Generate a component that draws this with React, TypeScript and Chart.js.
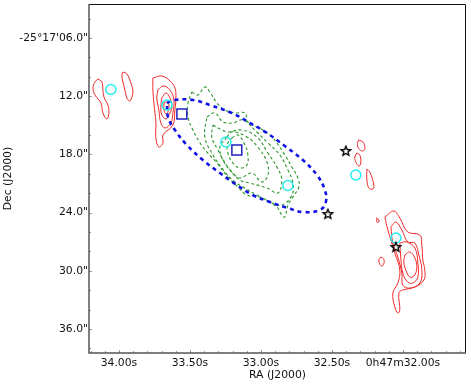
import React, { useEffect, useRef } from "react";
import { Chart, registerables } from "chart.js";

Chart.register(...registerables);

const raTicks = [34.0, 33.5, 33.0, 32.5, 32.0];
const raLabels = ["34.00s", "33.50s", "33.00s", "32.50s", "0h47m32.00s"];
const decTicks = [6, 12, 18, 24, 30, 36];
const decLabels = ["-25°17'06.0\"", "12.0\"", "18.0\"", "24.0\"", "30.0\"", "36.0\""];

// contours: RA seconds / Dec arcseconds below -25°17'00"
const redARa = [34.148, 34.12, 34.113, 34.106, 34.078, 34.071, 34.085, 34.113, 34.127, 34.169, 34.183, 34.169, 34.148];
const redADec = [10.23, 10.54, 11.36, 12.08, 12.91, 13.73, 14.35, 13.73, 12.7, 11.88, 11.15, 10.54, 10.23];
const redBRa = [33.972, 33.944, 33.916, 33.902, 33.923, 33.944, 33.958, 33.972, 33.979, 33.972];
const redBDec = [9.51, 9.71, 10.64, 11.57, 12.5, 12.19, 11.36, 10.54, 9.81, 9.51];
const redC1Ra = [33.761, 33.698, 33.641, 33.606, 33.599, 33.606, 33.62, 33.69, 33.69, 33.719, 33.74, 33.74, 33.754, 33.761, 33.761];
const redC1Dec = [10.12, 9.92, 10.43, 11.15, 12.19, 13.42, 14.97, 16.0, 16.83, 17.24, 16.31, 14.76, 12.7, 11.36, 10.12];
const redC2Ra = [33.726, 33.69, 33.641, 33.613, 33.62, 33.634, 33.676, 33.705, 33.719, 33.733, 33.726];
const redC2Dec = [11.36, 10.95, 11.36, 12.39, 13.73, 14.76, 15.28, 14.76, 13.42, 12.19, 11.36];
const redC3Ra = [33.698, 33.669, 33.641, 33.627, 33.648, 33.669, 33.698, 33.705, 33.698];
const redC3Dec = [12.19, 11.67, 12.19, 13.11, 13.94, 14.35, 13.94, 13.11, 12.19];
const redC4Ra = [33.683, 33.662, 33.648, 33.655, 33.669, 33.683, 33.683];
const redC4Dec = [12.7, 12.6, 12.91, 13.63, 13.84, 13.42, 12.7];
const redDRa = [32.311, 32.282, 32.268, 32.29, 32.318, 32.318, 32.311];
const redDDec = [16.52, 16.72, 17.44, 17.65, 17.24, 16.72, 16.52];
const redERa = [32.325, 32.304, 32.297, 32.311, 32.332, 32.339, 32.325];
const redEDec = [17.86, 18.06, 18.89, 19.2, 18.78, 18.27, 17.86];
const redFRa = [32.254, 32.233, 32.205, 32.212, 32.24, 32.254, 32.254];
const redFDec = [19.51, 19.82, 21.16, 21.57, 21.46, 20.64, 19.51];
const redGRa = [32.184, 32.17, 32.17, 32.184, 32.184];
const redGDec = [24.56, 24.76, 24.97, 24.97, 24.56];
const redHRa = [32.156, 32.135, 32.135, 32.149, 32.163, 32.17, 32.156];
const redHDec = [28.58, 28.79, 29.3, 29.51, 29.3, 28.89, 28.58];
const redI1Ra = [32.128, 32.064, 32.022, 31.966, 31.881, 31.867, 31.86, 31.846, 31.853, 31.916, 32.001, 32.029, 32.022, 32.036, 32.057, 32.071, 32.036, 32.022, 32.057, 32.106, 32.128];
const redI1Dec = [24.46, 23.84, 24.56, 26.0, 26.31, 27.34, 28.89, 29.92, 30.95, 31.67, 31.98, 32.29, 34.04, 34.35, 33.73, 32.29, 31.26, 29.92, 28.17, 25.8, 24.46];
const redI2Ra = [32.085, 32.05, 32.008, 31.966, 31.916, 31.888, 31.867, 31.881, 31.952, 32.001, 32.008, 32.036, 32.071, 32.085];
const redI2Dec = [25.49, 24.97, 25.8, 27.03, 27.14, 28.37, 29.92, 31.26, 31.78, 31.47, 30.23, 28.58, 27.14, 25.49];
const redI3Ra = [32.022, 31.973, 31.916, 31.895, 31.895, 31.93, 31.966, 32.001, 32.015, 32.022];
const redI3Dec = [27.14, 27.03, 27.65, 29.2, 30.64, 31.26, 31.16, 30.23, 28.68, 27.14];
const redI4Ra = [31.987, 31.952, 31.916, 31.902, 31.923, 31.952, 31.98, 31.994, 31.987];
const redI4Dec = [28.37, 28.06, 28.68, 29.71, 30.54, 30.64, 29.92, 29.09, 28.37];

const green1Ra = [33.486, 33.444, 33.395, 33.36, 33.31, 33.254, 33.184, 33.113, 33.092, 32.986, 32.916, 32.832, 32.782, 32.74, 32.733, 32.775, 32.81, 32.832, 32.853, 32.888, 33.008, 33.099, 33.162, 33.233, 33.31, 33.409, 33.479, 33.514, 33.514, 33.486];
const green1Dec = [11.57, 11.88, 11.05, 11.57, 12.7, 13.42, 13.73, 13.73, 14.66, 15.49, 16.31, 18.06, 19.3, 20.43, 21.36, 22.39, 23.22, 24.46, 24.25, 23.42, 22.39, 22.19, 21.36, 20.33, 18.89, 17.24, 15.49, 14.14, 12.7, 11.57];
const green2Ra = [33.381, 33.324, 33.268, 33.198, 33.127, 33.029, 32.951, 32.867, 32.81, 32.775, 32.782, 32.853, 32.937, 33.029, 33.127, 33.184, 33.254, 33.338, 33.395, 33.381];
const green2Dec = [14.14, 13.73, 14.66, 14.76, 14.45, 15.69, 16.83, 18.06, 19.61, 20.95, 22.19, 23.22, 22.91, 22.19, 21.36, 20.85, 19.82, 18.06, 16.21, 14.14];
const green3Ra = [33.338, 33.275, 33.233, 33.134, 33.029, 32.951, 32.888, 32.853, 32.881, 32.958, 33.078, 33.148, 33.233, 33.303, 33.346, 33.338];
const green3Dec = [14.97, 15.49, 15.69, 15.49, 16.21, 17.86, 19.3, 20.64, 21.98, 21.46, 20.95, 20.64, 19.3, 17.55, 16.21, 14.97];
const green4Ra = [33.24, 33.205, 33.099, 33.022, 32.958, 32.951, 32.994, 33.064, 33.148, 33.198, 33.268, 33.289, 33.24];
const green4Dec = [16.21, 15.69, 16.21, 17.24, 18.78, 20.12, 20.85, 19.92, 20.43, 19.92, 18.58, 17.24, 16.21];
const green5Ra = [33.205, 33.162, 33.113, 33.092, 33.099, 33.148, 33.198, 33.233, 33.233, 33.205];
const green5Dec = [16.31, 16.0, 17.03, 18.06, 19.09, 19.4, 18.89, 17.86, 16.83, 16.31];

const ellipseRa = [33.662, 33.606, 33.479, 33.36, 33.205, 33.078, 32.958, 32.832, 32.705, 32.606, 32.55, 32.543, 32.585, 32.705, 32.81, 32.937, 33.057, 33.17, 33.289, 33.409, 33.522, 33.606, 33.655, 33.662];
const ellipseDec = [12.7, 12.39, 12.39, 12.91, 13.73, 14.76, 15.79, 17.14, 18.58, 20.12, 21.67, 22.91, 23.73, 23.94, 23.53, 22.91, 22.19, 21.16, 19.92, 18.58, 17.03, 15.49, 14.14, 12.7];

const circleRa = [34.057, 33.662, 33.247, 32.81, 32.332, 32.05];
const circleDec = [11.31, 12.91, 16.72, 21.21, 20.12, 26.62];
const squareRa = [33.557, 33.17];
const squareDec = [13.84, 17.55];
const starRa = [32.402, 32.529, 32.05];
const starDec = [17.65, 24.15, 27.55];

const raMinor = [34.2, 34.1, 33.9, 33.8, 33.7, 33.6, 33.4, 33.3, 33.2, 33.1, 32.9, 32.8, 32.7, 32.6, 32.4, 32.3, 32.2, 32.1, 31.9, 31.8, 31.7, 31.6];
const decMinor = [4, 8, 10, 14, 16, 20, 22, 26, 28, 32, 34, 38];

const toPts = (xs: number[], ys: number[]) => xs.map((x, i) => ({ x, y: ys[i] }));

const font = { family: "'DejaVu Sans'", size: 10.8 };

function makeStar(): HTMLCanvasElement {
  const c = document.createElement("canvas");
  c.width = 14;
  c.height = 14;
  const g = c.getContext("2d")!;
  g.beginPath();
  for (let i = 0; i < 10; i++) {
    const r = i % 2 === 0 ? 5 : 2.2;
    const a = -Math.PI / 2 + (i * Math.PI) / 5;
    const px = 7 + r * Math.cos(a);
    const py = 7.3 + r * Math.sin(a);
    if (i === 0) g.moveTo(px, py);
    else g.lineTo(px, py);
  }
  g.closePath();
  g.lineWidth = 1.4;
  g.strokeStyle = "#000";
  g.stroke();
  return c;
}

const framePlugin = {
  id: "frame",
  afterDatasetsDraw(chart: any) {
    const { ctx, chartArea: a, scales } = chart;
    ctx.save();
    const xs = scales.x;
    const ys = scales.y;
    ctx.strokeStyle = "#999";
    ctx.lineWidth = 1;
    const tick = (v: number, len: number, isX: boolean) => {
      ctx.beginPath();
      if (isX) {
        const p = Math.round(xs.getPixelForValue(v)) + 0.5;
        ctx.moveTo(p, a.bottom);
        ctx.lineTo(p, a.bottom - len);
      } else {
        const p = Math.round(ys.getPixelForValue(v)) + 0.5;
        ctx.moveTo(a.left, p);
        ctx.lineTo(a.left + len, p);
      }
      ctx.stroke();
    };
    raTicks.forEach((v) => tick(v, 3, true));
    raMinor.forEach((v) => tick(v, 2, true));
    decTicks.forEach((v) => tick(v, 3, false));
    decMinor.forEach((v) => tick(v, 2, false));
    ctx.strokeStyle = "#111";
    ctx.lineWidth = 1;
    ctx.beginPath();
    ctx.moveTo(a.left, a.top + 0.5);
    ctx.lineTo(a.right - 0.5, a.top + 0.5);
    ctx.lineTo(a.right - 0.5, a.bottom);
    ctx.stroke();
    ctx.strokeStyle = "#555";
    ctx.lineWidth = 1.5;
    ctx.beginPath();
    ctx.moveTo(a.left, a.top);
    ctx.lineTo(a.left, a.bottom);
    ctx.lineTo(a.right, a.bottom);
    ctx.stroke();
    ctx.restore();
  },
};

export default function App() {
  const ref = useRef<HTMLCanvasElement>(null);
  useEffect(() => {
    const red = [
      [redARa, redADec], [redBRa, redBDec], [redC1Ra, redC1Dec], [redC2Ra, redC2Dec], [redC3Ra, redC3Dec],
      [redC4Ra, redC4Dec], [redDRa, redDDec], [redERa, redEDec], [redFRa, redFDec], [redGRa, redGDec],
      [redHRa, redHDec], [redI1Ra, redI1Dec], [redI2Ra, redI2Dec], [redI3Ra, redI3Dec], [redI4Ra, redI4Dec],
    ];
    const green = [
      [green1Ra, green1Dec], [green2Ra, green2Dec], [green3Ra, green3Dec], [green4Ra, green4Dec], [green5Ra, green5Dec],
    ];
    const line = (xs: number[], ys: number[], color: string, width: number, dash: number[], order: number) => ({
      data: toPts(xs, ys),
      showLine: true,
      borderColor: color,
      borderWidth: width,
      borderDash: dash,
      pointRadius: 0,
      tension: 0.4,
      fill: false,
      order,
    });
    const chart = new Chart(ref.current!, {
      type: "scatter",
      data: {
        datasets: [
          ...red.map(([x, y]) => line(x, y, "#f02a2a", 1, [], 5)),
          ...green.map(([x, y]) => line(x, y, "#2a962a", 1.1, [3, 2.5], 4)),
          line(ellipseRa, ellipseDec, "#1010e8", 2.6, [4, 4], 3),
          {
            data: toPts(circleRa, circleDec),
            pointStyle: "circle",
            pointRadius: 5,
            pointBorderColor: "#22eeee",
            pointBackgroundColor: "transparent",
            pointBorderWidth: 1.5,
            order: 2,
          },
          {
            data: toPts(squareRa, squareDec),
            pointStyle: "rect",
            pointRadius: 7,
            pointBorderColor: "#2020c0",
            pointBackgroundColor: "transparent",
            pointBorderWidth: 1.5,
            order: 1,
          },
          {
            data: toPts(starRa, starDec),
            pointStyle: makeStar(),
            pointRadius: 7,
            order: 0,
          },
        ] as any,
      },
      options: {
        responsive: false,
        animation: false,
        layout: { autoPadding: false, padding: { top: 4, right: 5, left: 0, bottom: 0 } },
        plugins: { legend: { display: false }, tooltip: { enabled: false } },
        scales: {
          x: {
            type: "linear",
            reverse: true,
            min: 31.556,
            max: 34.211,
            grid: { display: false, drawTicks: false },
            border: { display: false },
            afterBuildTicks: (s: any) => {
              s.ticks = raTicks.map((value) => ({ value }));
            },
            afterFit: (s: any) => {
              s.height = 33;
              s.paddingLeft = 0;
              s.paddingRight = 0;
            },
            ticks: {
              autoSkip: false,
              maxRotation: 0,
              padding: 4,
              color: "#111",
              font,
              callback: (v: any) => raLabels[raTicks.indexOf(Number(v))] ?? "",
            },
            title: { display: true, text: "RA (J2000)", color: "#111", font, padding: { top: 1, bottom: 4 } },
          },
          y: {
            type: "linear",
            reverse: true,
            min: 2.5,
            max: 38.47,
            grid: { display: false, drawTicks: false },
            border: { display: false },
            afterBuildTicks: (s: any) => {
              s.ticks = decTicks.map((value) => ({ value }));
            },
            afterFit: (s: any) => {
              s.width = 89;
              s.paddingTop = 0;
              s.paddingBottom = 0;
            },
            ticks: {
              autoSkip: false,
              padding: 1,
              color: "#111",
              font,
              callback: (v: any) => decLabels[decTicks.indexOf(Number(v))] ?? "",
            },
            title: { display: true, text: "Dec (J2000)", color: "#111", font, padding: { top: 2, bottom: 0 } },
          },
        },
      },
      plugins: [framePlugin],
    } as any);
    return () => chart.destroy();
  }, []);
  return (
    <div style={{ position: "fixed", left: 0, top: 0, width: 471, height: 386, background: "#fff" }}>
      <canvas ref={ref} width={471} height={386} style={{ display: "block" }} />
    </div>
  );
}
